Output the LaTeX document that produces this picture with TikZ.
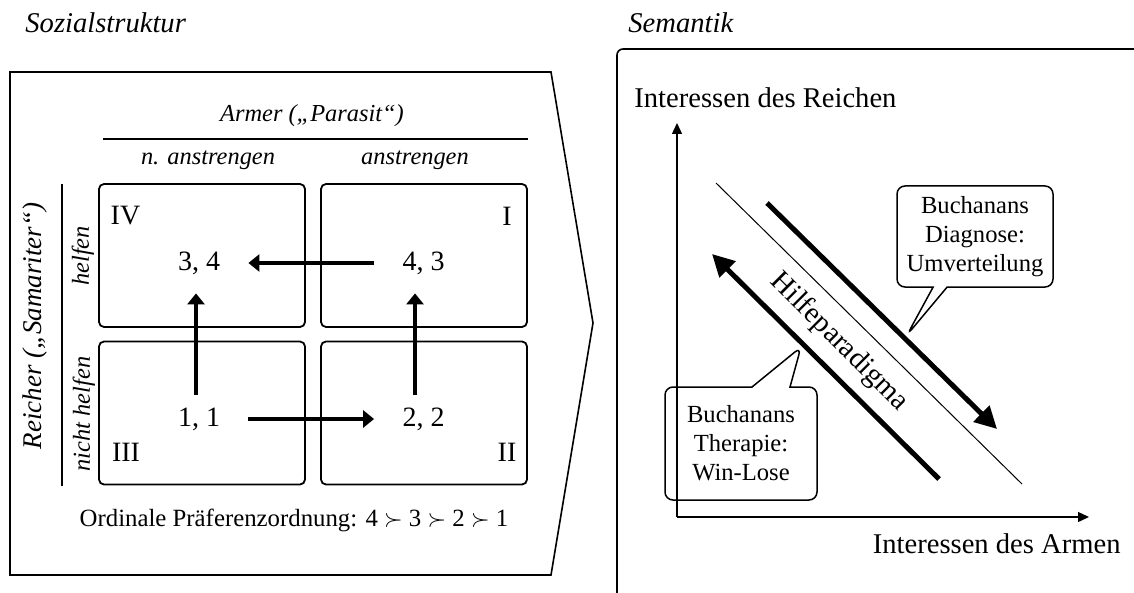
\documentclass[tikz,border=0pt]{standalone}
\usepackage{fontspec}
\setmainfont{Liberation Serif}
\usetikzlibrary{arrows.meta,shapes.callouts}

\begin{document}
\begin{tikzpicture}[
    x=0.5pt, y=-0.5pt,
    panel/.style={draw, line width=0.8pt},
    cell/.style={rectangle, draw, rounded corners=2.5pt, line width=0.9pt, minimum width=103pt, minimum height=71.5pt},
    payoff/.style={font=\fontsize{14}{16}\selectfont, minimum width=49pt, minimum height=24pt, inner sep=0pt},
    quadrant/.style={font=\fontsize{14}{16}\selectfont, inner sep=0pt},
    move/.style={-{Triangle[length=5.5pt, width=8.5pt]}, line width=2.2pt},
    head/.style={font=\fontsize{12.2}{14}\selectfont\itshape, inner sep=0pt},
    title/.style={font=\fontsize{14.3}{16}\selectfont\itshape, inner sep=0pt, anchor=base west},
    axislabel/.style={font=\fontsize{14.3}{16}\selectfont, inner sep=0pt},
    axis/.style={-{Triangle[length=5.5pt, width=5pt]}, line width=0.7pt},
    trend/.style={-{Triangle[length=11pt, width=11pt]}, line width=2.5pt},
    bubble/.style={rectangle callout, draw, rounded corners=4pt, line width=0.75pt, align=center, font=\fontsize{12.3}{14.5}\selectfont, inner sep=0pt}
]
\useasboundingbox (0,0) rectangle (1134,593);

% === LEFT SIDE: Sozialstruktur ===
\node[title] (soz) at (25,33) {Sozialstruktur};
\draw[panel] (10,72) -- (551,72) -- (593,323) -- (551,575) -- (10,575) -- cycle;

% Column and row heads
\node[head] (armer) at (312,116) {Armer (\char"201E Parasit\char"201C)};
\draw[line width=0.8pt] (103,139) -- (528,139);
\node[head] (nanstr) at (208,160) {n. anstrengen};
\node[head] (anstr) at (415,160) {anstrengen};
\node[head, rotate=90, font=\fontsize{13.5}{16}\selectfont\itshape] (reicher) at (35,326) {Reicher (\char"201E Samariter\char"201C)};
\draw[line width=0.8pt] (62,184) -- (62,486);
\node[head, rotate=90] (helfen) at (83,256) {helfen};
\node[head, rotate=90] (nhelfen) at (84,414) {nicht helfen};

% Cells
\node[cell] (cIV) at (202,255.5) {};
\node[cell] (cI) at (424,255.5) {};
\node[cell] (cIII) at (202,413) {};
\node[cell] (cII) at (424,413) {};
\node[quadrant] (qIV) at (125.5,216) {IV};
\node[quadrant] (qI) at (507,216) {I};
\node[quadrant] (qIII) at (126,452.5) {III};
\node[quadrant] (qII) at (507,452.5) {II};

% Payoffs
\node[payoff] (p34) at (199,263) {3, 4};
\node[payoff] (p43) at (423.5,263) {4, 3};
\node[payoff] (p11) at (199,419) {1, 1};
\node[payoff] (p22) at (423.5,419) {2, 2};

% Moves
\draw[move] (p43) -- (p34);
\draw[move] (p11) -- (p22);
\draw[move, shorten >=3pt] ([xshift=-1.5pt]p11.north) -- ([xshift=-1.5pt]p34.south);
\draw[move, shorten >=3pt] ([xshift=-4.25pt]p22.north) -- ([xshift=-4.25pt]p43.south);

\node[font=\fontsize{12.4}{14}\selectfont, inner sep=0pt] (order) at (294,520) {Ordinale Präferenzordnung: 4 $\succ$ 3 $\succ$ 2 $\succ$ 1};

% === RIGHT SIDE: Semantik ===
\node[title] (sem) at (628,33) {Semantik};
\draw[panel, rounded corners=3pt] (617,593) -- (617,49) -- (1134,49);

% Axes
\coordinate (origin) at (677,517);
\coordinate (ytip) at (677,123);
\coordinate (xtip) at (1089,517);
\draw[axis] (origin) -- (ytip);
\draw[axis] (origin) -- (xtip);
\node[axislabel, anchor=base west] (yreich) at (634,108) {Interessen des Reichen};
\node[axislabel, anchor=base east] (xarm) at (1121,553) {Interessen des Armen};

% Diagonals
\coordinate (f1) at (716,183);
\coordinate (f2) at (1022,484);
\coordinate (d1) at (767,203);
\coordinate (d2) at (997,429);
\coordinate (t1) at (939,479);
\coordinate (t2) at (712,254);
\draw[line width=0.5pt] (f1) -- (f2);
\draw[trend] (d1) -- (d2);
\draw[trend] (t1) -- (t2);
\node[font=\fontsize{14.5}{16}\selectfont, rotate=-45, inner sep=0pt] (hilfe) at (839,342) {Hilfeparadigma};

% Callouts
\node[bubble, minimum width=78pt, minimum height=50.5pt, callout absolute pointer={(907,335)}, callout pointer width=7pt] (diagnose) at (975,236.5) {Buchanans\\Diagnose:\\Umverteilung};
\node[bubble, minimum width=76pt, minimum height=56.5pt, callout absolute pointer={(801,347)}, callout pointer width=19pt] (therapie) at (741,443.5) {Buchanans\\Therapie:\\Win-Lose};

\end{tikzpicture}
\end{document}
